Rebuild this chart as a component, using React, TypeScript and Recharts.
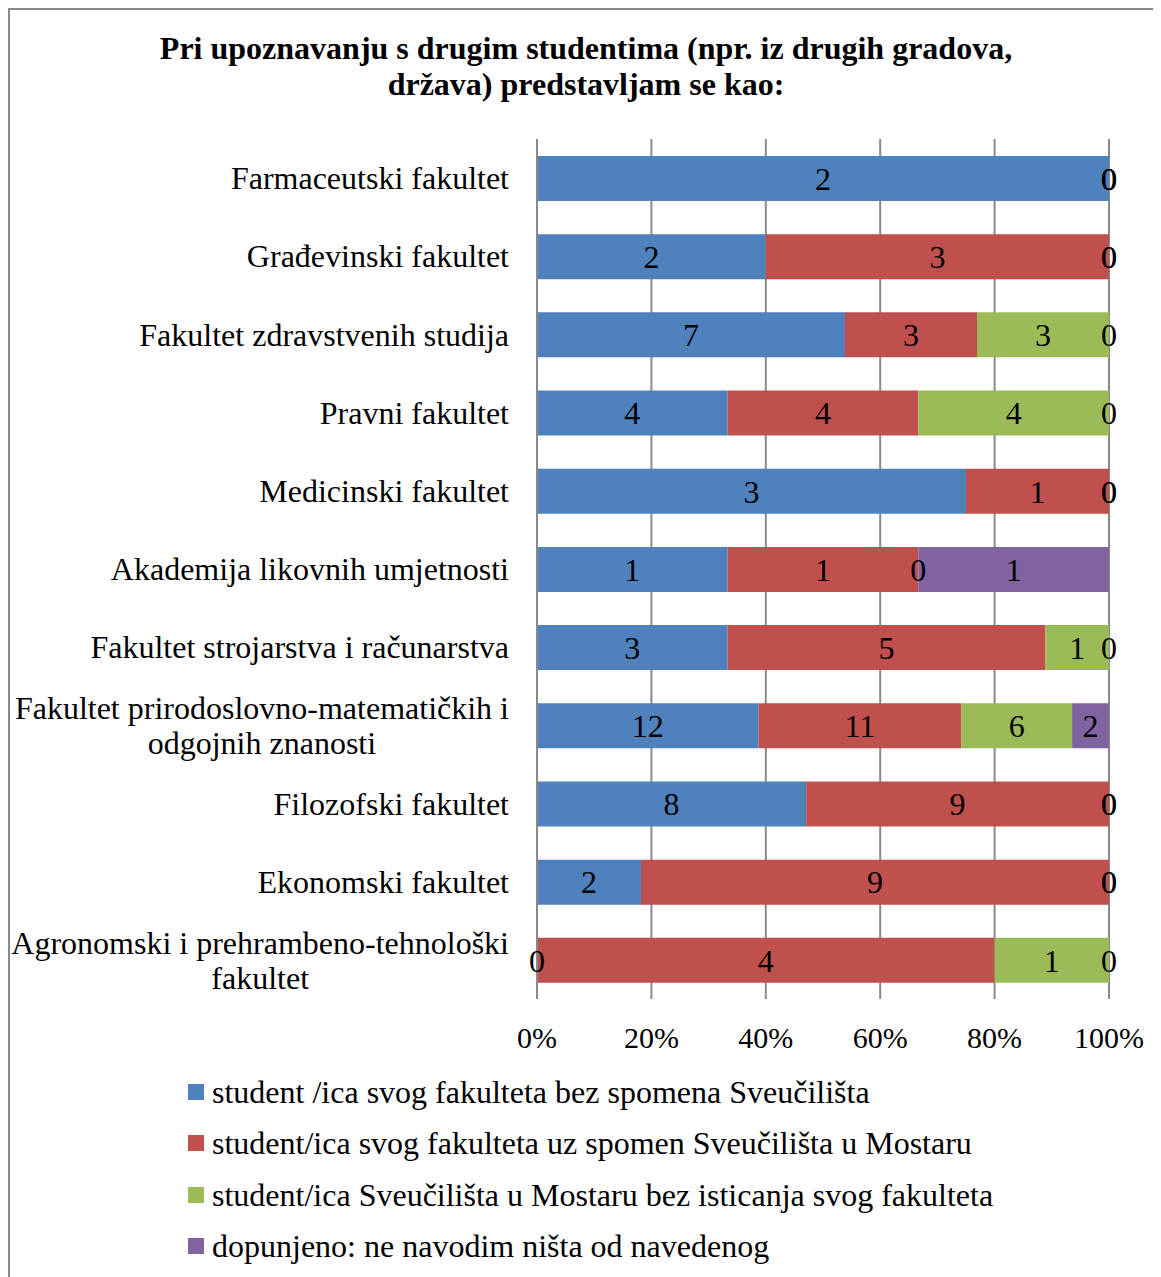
import React from "react";
import { BarChart, Bar, XAxis, YAxis, CartesianGrid, LabelList } from "recharts";

const categories = [
  "Farmaceutski fakultet",
  "Građevinski fakultet",
  "Fakultet zdravstvenih studija",
  "Pravni fakultet",
  "Medicinski fakultet",
  "Akademija likovnih umjetnosti",
  "Fakultet strojarstva i računarstva",
  "Fakultet prirodoslovno-matematičkih i\nodgojnih znanosti",
  "Filozofski fakultet",
  "Ekonomski fakultet",
  "Agronomski i prehrambeno-tehnološki\nfakultet",
];

const seriesNames = [
  "student /ica svog fakulteta bez spomena Sveučilišta",
  "student/ica svog fakulteta uz spomen Sveučilišta u Mostaru",
  "student/ica Sveučilišta u Mostaru bez isticanja svog fakulteta",
  "dopunjeno: ne navodim ništa od navedenog",
];
const seriesColors = ["#4F81BD", "#C0504D", "#9BBB59", "#8064A2"];

const bezSpomena = [2, 2, 7, 4, 3, 1, 3, 12, 8, 2, 0];
const uzSpomen = [0, 3, 3, 4, 1, 1, 5, 11, 9, 9, 4];
const sveuciliste = [0, 0, 3, 4, 0, 0, 1, 6, 0, 0, 1];
const nista = [0, 0, 0, 0, 0, 1, 0, 2, 0, 0, 0];

const xTicks = [0, 0.2, 0.4, 0.6, 0.8, 1];

const titleLines = [
  "Pri upoznavanju s drugim studentima (npr. iz drugih gradova,",
  "država) predstavljam se kao:",
];

const seriesValues = [bezSpomena, uzSpomen, sveuciliste, nista];
const seriesKeys = ["s0", "s1", "s2", "s3"];

// Zero-valued segments get a negligible width so that Recharts still places their "0" label
// at the stack boundary, as in the original chart; labels show the raw values.
const ZERO_WIDTH = 1e-6;
const data = categories.map((name, i) => {
  const row: any = { name };
  seriesKeys.forEach((k, j) => {
    const v = seriesValues[j][i];
    row[k] = v === 0 ? ZERO_WIDTH : v;
    row["r" + j] = v;
  });
  return row;
});

const FONT = "'Liberation Serif', 'Times New Roman', serif";
const GRID = "#898989";
const FS = 32;

let ctx: CanvasRenderingContext2D | null = null;
function measure(text: string): number {
  if (!ctx) {
    const c = document.createElement("canvas");
    ctx = c.getContext("2d");
  }
  if (!ctx) return text.length * 14;
  ctx.font = `${FS}px ${FONT}`;
  return ctx.measureText(text).width;
}

const CategoryTick = (props: any) => {
  const { x, y, payload } = props;
  const lines = String(payload.value).split("\n");
  if (lines.length === 1) {
    return (
      <text x={x} y={y} dy="0.35em" textAnchor="end" fill="#000" fontSize={FS} fontFamily={FONT}>
        {lines[0]}
      </text>
    );
  }
  const w = measure(lines[0]);
  const cx = x - w / 2;
  const lh = 35;
  return (
    <text textAnchor="middle" fill="#000" fontSize={FS} fontFamily={FONT}>
      {lines.map((l, i) => (
        <tspan key={i} x={cx} y={y + (i - (lines.length - 1) / 2) * lh} dy="0.35em">
          {l}
        </tspan>
      ))}
    </text>
  );
};

const W = 1153;
const H = 1269;
const legendCenters = [1084, 1135, 1187, 1238];

export default function App() {
  return (
    <div
      style={{
        position: "relative",
        width: W,
        height: H,
        background: "#fff",
        fontFamily: FONT,
        overflow: "hidden",
      }}
    >
      <div
        style={{
          position: "absolute",
          left: 0,
          top: 0,
          width: W + 20,
          height: H + 20,
          borderLeft: `2px solid ${GRID}`,
          borderTop: `2px solid ${GRID}`,
          boxSizing: "border-box",
          pointerEvents: "none",
        }}
      />
      <div
        style={{
          position: "absolute",
          left: 0,
          top: 22,
          width: 1156,
          textAlign: "center",
          fontWeight: "bold",
          fontSize: FS,
          lineHeight: "36px",
          color: "#000",
        }}
      >
        {titleLines.map((t, i) => (
          <div key={i} style={{ whiteSpace: "nowrap" }}>{t}</div>
        ))}
      </div>
      <div style={{ position: "absolute", left: 0, top: 0 }}>
        <BarChart
          width={W}
          height={H}
          data={data}
          layout="vertical"
          stackOffset="expand"
          barSize={45}
          margin={{ top: 131, right: 52, bottom: 218, left: 0 }}
        >
          <CartesianGrid horizontal={false} stroke={GRID} strokeWidth={2} />
          <XAxis
            type="number"
            domain={[0, 1]}
            ticks={xTicks}
            interval={0}
            tickFormatter={(v: number) => `${Math.round(v * 100)}%`}
            axisLine={false}
            tickLine={false}
            tickSize={0}
            tickMargin={28}
            height={60}
            tick={{ fill: "#000", fontSize: 30, fontFamily: FONT }}
          />
          <YAxis
            type="category"
            dataKey="name"
            width={529}
            interval={0}
            axisLine={{ stroke: GRID, strokeWidth: 2 }}
            tickLine={false}
            tickSize={0}
            tickMargin={28}
            tick={<CategoryTick />}
          />
          {seriesKeys.map((k, j) => (
            <Bar
              key={k}
              dataKey={k}
              name={seriesNames[j]}
              stackId="a"
              fill={seriesColors[j]}
              isAnimationActive={false}
            >
              <LabelList
                dataKey={"r" + j}
                position="center"
                fill="#000"
                fontSize={FS}
                fontFamily={FONT}
              />
            </Bar>
          ))}
        </BarChart>
      </div>
      {seriesNames.map((n, j) => (
        <div
          key={n}
          style={{
            position: "absolute",
            left: 180,
            top: legendCenters[j] - 18,
            height: 36,
            display: "flex",
            alignItems: "center",
            fontSize: FS,
            color: "#000",
            whiteSpace: "nowrap",
          }}
        >
          <div style={{ width: 16, height: 16, background: seriesColors[j], marginRight: 8 }} />
          <span>{n}</span>
        </div>
      ))}
    </div>
  );
}
